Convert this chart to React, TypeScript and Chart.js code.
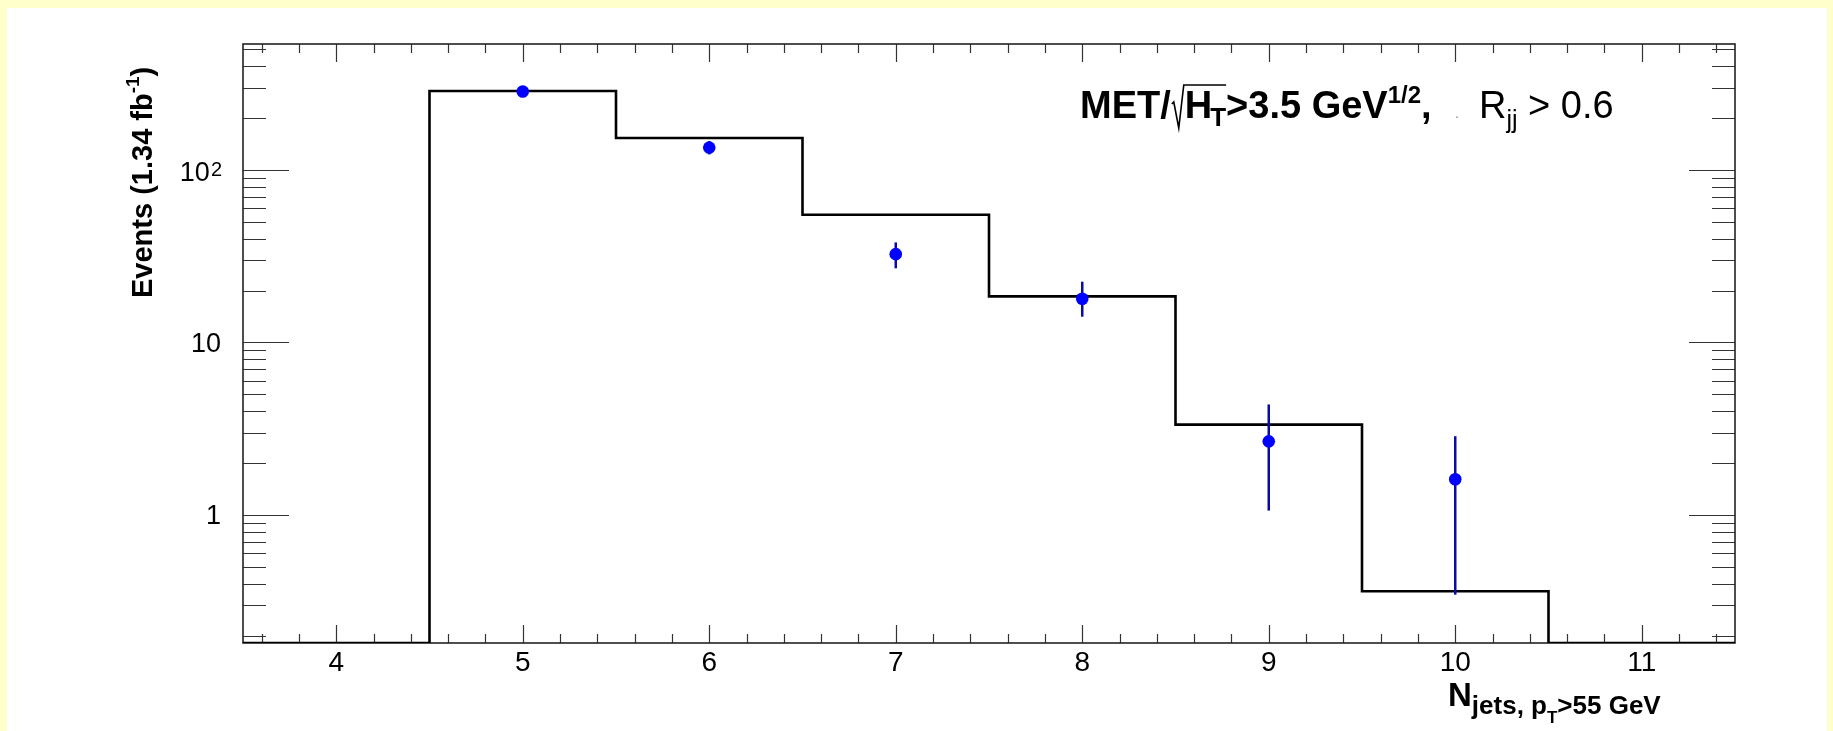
import React, { useEffect, useRef } from "react";
import { Chart, registerables } from "chart.js";
Chart.register(...registerables);

// ---- data ----
const binEdges = [3.5, 4.5, 5.5, 6.5, 7.5, 8.5, 9.5, 10.5, 11.5];
const mcValues = [0, 287, 153, 55, 18.5, 3.34, 0.361, 0];
const dataX = [5, 6, 7, 8, 9, 10];
const dataY = [284.7, 134.7, 32.5, 17.9, 2.67, 1.61];
const dataHigh = [300, 147, 38.0, 22.5, 4.37, 2.86];
const dataLow = [269, 123, 26.9, 14.1, 1.06, 0.345];
const xTickValues = [4, 5, 6, 7, 8, 9, 10, 11];
const xTickLabels = ["4", "5", "6", "7", "8", "9", "10", "11"];
const yTickValues = [1, 10, 100];
const yTickBase = ["1", "10", "10"];
const yTickSup = ["", "", "2"];
const X_MIN = 3.5;
const X_MAX = 11.5;
const Y_MIN = 0.181;
const Y_MAX = 537;

const FONT = "'Liberation Sans', Arial, Helvetica, sans-serif";

function drawSeq(ctx: CanvasRenderingContext2D, x: number, y: number, parts: { t: string; f: string; dy?: number; c?: string }[]) {
  let cx = x;
  for (const p of parts) {
    ctx.font = p.f;
    ctx.fillStyle = p.c || "#000";
    ctx.fillText(p.t, cx, y + (p.dy || 0));
    cx += ctx.measureText(p.t).width;
  }
  return cx;
}

const rootPlugin = {
  id: "rootStyle",
  beforeDraw(chart: any) {
    const ctx = chart.ctx as CanvasRenderingContext2D;
    ctx.save();
    ctx.fillStyle = "#ffffcc";
    ctx.fillRect(0, 0, chart.width, chart.height);
    ctx.fillStyle = "#ffffff";
    ctx.fillRect(7, 8, 1820, chart.height - 8);
    ctx.restore();
  },
  beforeDatasetsDraw(chart: any) {
    const ctx = chart.ctx as CanvasRenderingContext2D;
    const a = chart.chartArea;
    const xs = chart.scales.x;
    const ys = chart.scales.y;
    ctx.save();
    ctx.strokeStyle = "#333";
    ctx.lineWidth = 1.2;
    // x ticks (bottom and top)
    for (let v = 3.6; v < X_MAX; v += 0.2) {
      const vv = Math.round(v * 10) / 10;
      const isMajor = Math.abs(vv - Math.round(vv)) < 1e-6;
      const len = isMajor ? 18 : 9;
      const px = Math.round(xs.getPixelForValue(vv)) + 0.5;
      ctx.beginPath();
      ctx.moveTo(px, a.bottom);
      ctx.lineTo(px, a.bottom - len);
      ctx.moveTo(px, a.top);
      ctx.lineTo(px, a.top + len);
      ctx.stroke();
    }
    // y ticks (left and right)
    for (const d of [0.1, 1, 10, 100]) {
      for (let m = 1; m <= 9; m++) {
        const v = m * d;
        if (v < Y_MIN || v > Y_MAX) continue;
        const len = m === 1 ? 46 : 23;
        const py = Math.round(ys.getPixelForValue(v)) + 0.5;
        ctx.beginPath();
        ctx.moveTo(a.left, py);
        ctx.lineTo(a.left + len, py);
        ctx.moveTo(a.right, py);
        ctx.lineTo(a.right - len, py);
        ctx.stroke();
      }
    }
    // frame
    ctx.lineWidth = 1.6;
    ctx.strokeStyle = "#222";
    ctx.strokeRect(a.left, a.top, a.right - a.left, a.bottom - a.top);
    ctx.restore();
  },
  afterDatasetDraw(chart: any, args: any) {
    if (args.index !== 1) return;
    const ctx = chart.ctx as CanvasRenderingContext2D;
    const xs = chart.scales.x;
    const ys = chart.scales.y;
    ctx.save();
    ctx.strokeStyle = "#0a0aa8";
    ctx.lineWidth = 2.5;
    for (let i = 0; i < dataX.length; i++) {
      const px = xs.getPixelForValue(dataX[i]);
      ctx.beginPath();
      ctx.moveTo(px, ys.getPixelForValue(dataHigh[i]));
      ctx.lineTo(px, ys.getPixelForValue(dataLow[i]));
      ctx.stroke();
    }
    ctx.restore();
  },
  afterDraw(chart: any) {
    const ctx = chart.ctx as CanvasRenderingContext2D;
    const a = chart.chartArea;
    const xs = chart.scales.x;
    const ys = chart.scales.y;
    ctx.save();
    ctx.fillStyle = "#000";
    ctx.textBaseline = "alphabetic";
    // x tick labels
    ctx.font = `28px ${FONT}`;
    ctx.textAlign = "center";
    xTickValues.forEach((v, i) => {
      ctx.fillText(xTickLabels[i], xs.getPixelForValue(v), a.bottom + 28);
    });
    // y tick labels
    ctx.textAlign = "right";
    yTickValues.forEach((v, i) => {
      const py = ys.getPixelForValue(v);
      if (yTickSup[i]) {
        ctx.font = `20px ${FONT}`;
        const sw = ctx.measureText(yTickSup[i]).width;
        ctx.fillText(yTickSup[i], 222, py + 6);
        ctx.font = `27px ${FONT}`;
        ctx.fillText(yTickBase[i], 222 - sw - 1, py + 11);
      } else {
        ctx.font = `27px ${FONT}`;
        ctx.fillText(yTickBase[i], 221, py + 9.5);
      }
    });
    ctx.textAlign = "left";
    // y title (rotated)
    ctx.save();
    ctx.translate(152, 298);
    ctx.rotate(-Math.PI / 2);
    drawSeq(ctx, 0, 0, [
      { t: "Events (1.34 fb", f: `bold 29px ${FONT}` },
      { t: "-1", f: `bold 19px ${FONT}`, dy: -13 },
      { t: ")", f: `bold 29px ${FONT}` },
    ]);
    ctx.restore();
    // x title
    let cx = drawSeq(ctx, 1448, 706, [
      { t: "N", f: `bold 33px ${FONT}` },
      { t: "jets, p", f: `bold 26px ${FONT}`, dy: 8 },
    ]);
    cx = drawSeq(ctx, cx, 706, [{ t: "T", f: `bold 17px ${FONT}`, dy: 17 }]);
    drawSeq(ctx, cx, 706, [{ t: ">55 GeV", f: `bold 26px ${FONT}`, dy: 8 }]);
    // annotation
    const by = 118;
    let ax = drawSeq(ctx, 1080, by, [{ t: "MET/", f: `bold 38px ${FONT}` }]);
    // sqrt sign
    ctx.strokeStyle = "#000";
    ctx.lineWidth = 1.6;
    ctx.beginPath();
    ctx.moveTo(ax + 1, by - 14);
    ctx.lineTo(ax + 3, by - 16);
    ctx.lineTo(ax + 8, by + 10);
    ctx.lineTo(ax + 13, by - 33);
    ax = ax + 14;
    ax = drawSeq(ctx, ax, by, [{ t: "H", f: `bold 38px ${FONT}` }]);
    ax = drawSeq(ctx, ax - 2, by, [{ t: "T", f: `bold 26px ${FONT}`, dy: 8 }]);
    ctx.lineTo(ax, by - 33);
    ctx.stroke();
    drawSeq(ctx, ax, by, [
      { t: ">3.5 GeV", f: `bold 38px ${FONT}` },
      { t: "1/2", f: `bold 24px ${FONT}`, dy: -15 },
      { t: ",", f: `bold 38px ${FONT}` },
    ]);
    drawSeq(ctx, 1455, by, [{ t: ".", f: `14px ${FONT}`, c: "#888" }]);
    drawSeq(ctx, 1479, by, [
      { t: "R", f: `38px ${FONT}` },
      { t: "jj", f: `25px ${FONT}`, dy: 10 },
      { t: " > 0.6", f: `38px ${FONT}` },
    ]);
    ctx.restore();
  },
};

export default function App() {
  const ref = useRef<HTMLCanvasElement | null>(null);
  useEffect(() => {
    if (!ref.current) return;
    // empty bins (0 entries) sit on the floor of the log axis
    const histPoints = binEdges.map((e, i) => {
      const v = i < mcValues.length ? mcValues[i] : mcValues[mcValues.length - 1];
      return { x: e, y: v > 0 ? v : Y_MIN };
    });
    const points = dataX.map((x, i) => ({ x, y: dataY[i] }));
    const chart = new Chart(ref.current, {
      type: "scatter",
      data: {
        datasets: [
          {
            type: "scatter",
            label: "Data",
            data: points,
            pointRadius: 6.3,
            pointHoverRadius: 6.3,
            backgroundColor: "#0000ff",
            borderColor: "#0000ff",
            borderWidth: 0,
          },
          {
            type: "line",
            label: "MC",
            data: histPoints,
            stepped: true,
            borderColor: "#000000",
            borderWidth: 2.6,
            pointRadius: 0,
            fill: false,
            tension: 0,
          } as any,
        ],
      },
      options: {
        responsive: false,
        animation: false,
        devicePixelRatio: 1,
        events: [],
        layout: { padding: { left: 243, top: 44, right: 98, bottom: 88 } },
        scales: {
          x: { type: "linear", min: X_MIN, max: X_MAX, display: false },
          y: { type: "logarithmic", min: Y_MIN, max: Y_MAX, display: false },
        },
        plugins: { legend: { display: false }, tooltip: { enabled: false } },
      },
      plugins: [rootPlugin],
    });
    return () => chart.destroy();
  }, []);
  return (
    <div style={{ position: "fixed", left: 0, top: 0, width: 1833, height: 731 }}>
      <canvas ref={ref} width={1833} height={731} style={{ display: "block", width: 1833, height: 731 }} />
    </div>
  );
}
